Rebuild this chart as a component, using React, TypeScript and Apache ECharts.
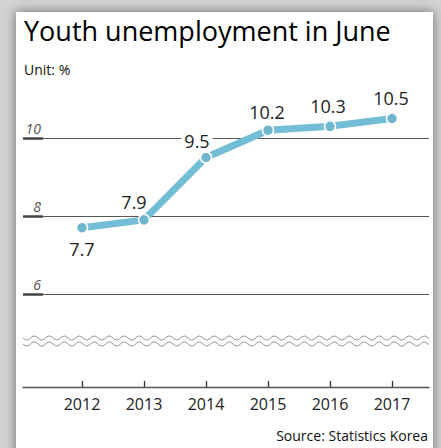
import React, { useEffect, useRef } from "react";
import * as echarts from "echarts";

const years = ["2012", "2013", "2014", "2015", "2016", "2017"];
const rates = [7.7, 7.9, 9.5, 10.2, 10.3, 10.5];
const yTicks = [6, 8, 10];

const FONT = "'Liberation Sans Narrow', 'Open Sans', sans-serif";
const TITLE_FONT = "'Open Sans', 'Noto Sans', sans-serif";

function wave(x0: number, x1: number, y: number, period: number, amp: number) {
  const pts: number[][] = [];
  for (let x = x0; x <= x1; x += 1) {
    pts.push([x, y + amp * Math.sin(((x - x0) / period) * Math.PI * 2)]);
  }
  return pts;
}

export default function App() {
  const ref = useRef<HTMLDivElement>(null);
  useEffect(() => {
    if (!ref.current) return;
    const chart = echarts.init(ref.current, undefined, { renderer: "svg" });
    const labelCfg: any[] = [
      { position: "bottom", distance: 6 },
      { position: "top", offset: [-10, 2] },
      { position: "top", offset: [-9, 4], backgroundColor: "#fff", padding: [0, 3] },
      { position: "top", offset: [-1, 2] },
      { position: "top", offset: [-2, 0] },
      { position: "top", offset: [-1, 0] },
    ];
    chart.setOption({
      animation: false,
      backgroundColor: "#d2d2d2",
      grid: [
        { left: 23, right: 12, top: 138, bottom: 154 },
        { left: 82, right: 49, top: 60, bottom: 154 },
      ],
      xAxis: [
        {
          gridIndex: 0,
          type: "value",
          min: 0,
          max: 1,
          offset: 93,
          axisLine: { show: true, lineStyle: { color: "#555", width: 1.3 } },
          axisTick: { show: false },
          axisLabel: { show: false },
          splitLine: { show: false },
        },
        {
          gridIndex: 1,
          type: "category",
          data: years,
          boundaryGap: false,
          offset: 93,
          axisLine: { show: false },
          axisTick: { show: true, inside: true, length: 6, lineStyle: { color: "#333", width: 1.3 } },
          axisLabel: { margin: 9, fontSize: 16, color: "#222", fontFamily: FONT },
          splitLine: { show: false },
        },
      ],
      yAxis: [
        {
          gridIndex: 0,
          type: "value",
          min: yTicks[0],
          max: yTicks[yTicks.length - 1],
          interval: 2,
          axisLine: { show: false },
          axisTick: { show: true, inside: true, length: 20, lineStyle: { color: "#444", width: 2.5 } },
          axisLabel: {
            inside: true,
            align: "right",
            verticalAlign: "bottom",
            margin: 18,
            padding: [0, 0, 3, 0],
            fontSize: 14,
            fontStyle: "italic",
            color: "#555",
            fontFamily: FONT,
          },
          splitLine: { show: true, lineStyle: { color: "#555", width: 1.2 } },
        },
        {
          gridIndex: 1,
          type: "value",
          min: 6,
          max: 12,
          show: false,
          splitLine: { show: false },
        },
      ],
      graphic: [
        {
          type: "rect",
          z: -10,
          shape: { x: 16, y: 12, width: 417, height: 460 },
          style: { fill: "#fff", shadowBlur: 12, shadowColor: "rgba(0,0,0,0.5)", shadowOffsetX: 0, shadowOffsetY: 0 },
        },
        {
          type: "text",
          left: 24,
          top: 17,
          style: { text: "Youth unemployment in June", fontSize: 27, fill: "#000", fontFamily: TITLE_FONT },
        },
        {
          type: "text",
          left: 24,
          top: 62,
          style: { text: "Unit: %", fontSize: 14, fill: "#111", fontFamily: FONT },
        },
        {
          type: "text",
          right: 13,
          top: 428,
          style: { text: "Source: Statistics Korea", fontSize: 14, fill: "#111", fontFamily: FONT },
        },
        {
          type: "polyline",
          shape: { points: wave(23, 429, 338, 15, 2), smooth: 0 },
          style: { stroke: "#999", lineWidth: 1, fill: "none" },
        },
        {
          type: "polyline",
          shape: { points: wave(23, 429, 344, 15, 2), smooth: 0 },
          style: { stroke: "#999", lineWidth: 1, fill: "none" },
        },
      ],
      series: [
        {
          type: "line",
          xAxisIndex: 1,
          yAxisIndex: 1,
          data: rates.map((v, i) => ({ value: v, label: labelCfg[i] })),
          clip: false,
          symbol: "circle",
          symbolSize: 11,
          lineStyle: { color: "#74bdd6", width: 7 },
          itemStyle: { color: "#6fb6cf", borderColor: "#fff", borderWidth: 1.5 },
          label: { show: true, fontSize: 18, color: "#222", fontFamily: FONT },
          z: 5,
        },
      ],
    });
    return () => chart.dispose();
  }, []);
  return <div ref={ref} style={{ position: "fixed", left: 0, top: 0, width: 441, height: 448 }} />;
}
